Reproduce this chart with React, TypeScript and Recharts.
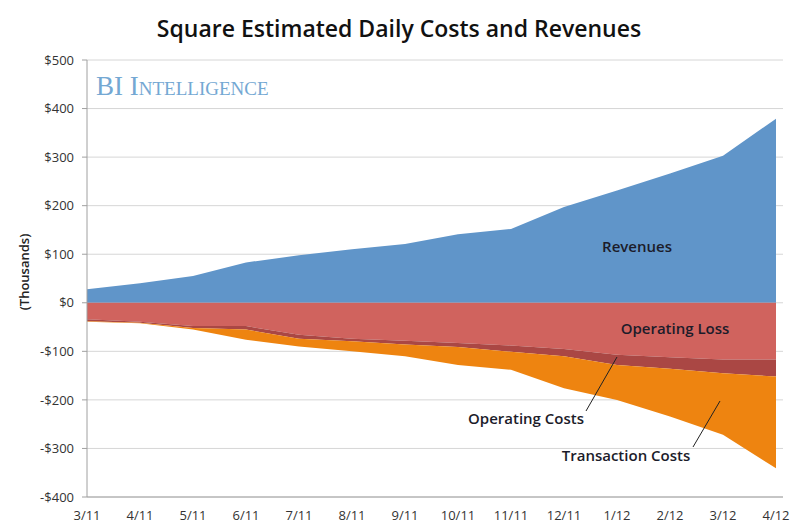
import React from "react";
import { AreaChart, Area, XAxis, YAxis, CartesianGrid } from "recharts";

const months = ["3/11", "4/11", "5/11", "6/11", "7/11", "8/11", "9/11", "10/11", "11/11", "12/11", "1/12", "2/12", "3/12", "4/12"];
const revenues = [28, 40, 55, 83, 98, 110, 121, 141, 152, 197, 231, 266, 303, 379];
const operatingLoss = [-34, -39, -48, -48, -66, -74, -78, -83, -88, -95, -107, -112, -117, -117];
const operatingCosts = [-4, -2, -4, -7, -8, -5, -8, -8, -13, -15, -21, -24, -28, -35];
const transactionCosts = [-1, -1, -3, -21, -16, -21, -24, -37, -37, -66, -72, -98, -127, -189];
const yTicks = [-400, -300, -200, -100, 0, 100, 200, 300, 400, 500];

const data = months.map((m, i) => ({
  month: m,
  revenues: revenues[i],
  operatingLoss: operatingLoss[i],
  operatingCosts: operatingCosts[i],
  transactionCosts: transactionCosts[i],
}));

const font = "'Open Sans', sans-serif";
const ink = "#1c1c2a";

const money = (v: number) => (v < 0 ? `-$${-v}` : `$${v}`);

export default function App() {
  return (
    <div style={{ position: "absolute", left: 0, top: 0, width: 800, height: 529, background: "#fff" }}>
      <AreaChart
        width={800}
        height={529}
        data={data}
        stackOffset="sign"
        margin={{ top: 60, right: 17, bottom: 0, left: 0 }}
      >
        <CartesianGrid vertical={false} stroke="#d6d6d6" />
        <XAxis
          dataKey="month"
          height={32}
          padding={{ left: 0, right: 7 }}
          tickLine={false}
          axisLine={{ stroke: "#a0a0a0" }}
          tick={{ fill: "#333", fontSize: 13, fontFamily: font }}
          tickMargin={8}
          interval={0}
        />
        <YAxis
          width={87}
          domain={[-400, 500]}
          ticks={yTicks}
          tickFormatter={money}
          allowDataOverflow
          axisLine={{ stroke: "#a0a0a0" }}
          tickLine={{ stroke: "#a0a0a0" }}
          tickSize={5}
          tickMargin={8}
          tick={{ fill: "#333", fontSize: 13, fontFamily: font }}
        />
        <Area type="linear" dataKey="revenues" stackId="a" fill="#6095c9" stroke="none" fillOpacity={1} isAnimationActive={false} />
        <Area type="linear" dataKey="operatingLoss" stackId="a" fill="#d0635e" stroke="none" fillOpacity={1} isAnimationActive={false} />
        <Area type="linear" dataKey="operatingCosts" stackId="a" fill="#aa4744" stroke="none" fillOpacity={1} isAnimationActive={false} />
        <Area type="linear" dataKey="transactionCosts" stackId="a" fill="#ee8410" stroke="none" fillOpacity={1} isAnimationActive={false} />
      </AreaChart>
      <svg width={800} height={529} style={{ position: "absolute", left: 0, top: 0, pointerEvents: "none" }}>
        <text x={399} y={37} textAnchor="middle" fontFamily={font} fontWeight={600} fontSize={23} fill="#111">
          Square Estimated Daily Costs and Revenues
        </text>
        <text x={96} y={95} fontFamily="'Liberation Serif', serif" fontSize={27} fill="#74a8d3" style={{ fontVariant: "small-caps" }}>
          BI Intelligence
        </text>
        <text x={26} y={272} transform="rotate(-90 26 272)" textAnchor="middle" dominantBaseline="middle" fontFamily={font} fontWeight={600} fontSize={13} fill="#222">
          (Thousands)
        </text>
        <text x={637} y={248} textAnchor="middle" dominantBaseline="middle" fontFamily={font} fontWeight={600} fontSize={15} fill={ink}>Revenues</text>
        <text x={675} y={330} textAnchor="middle" dominantBaseline="middle" fontFamily={font} fontWeight={600} fontSize={15} fill={ink}>Operating Loss</text>
        <text x={526} y={420} textAnchor="middle" dominantBaseline="middle" fontFamily={font} fontWeight={600} fontSize={15} fill={ink}>Operating Costs</text>
        <text x={626} y={457} textAnchor="middle" dominantBaseline="middle" fontFamily={font} fontWeight={600} fontSize={15} fill={ink}>Transaction Costs</text>
        <line x1={586} y1={411} x2={617} y2={357} stroke="#222" strokeWidth={1} />
        <line x1={693} y1={447} x2={720} y2={401} stroke="#222" strokeWidth={1} />
      </svg>
    </div>
  );
}
